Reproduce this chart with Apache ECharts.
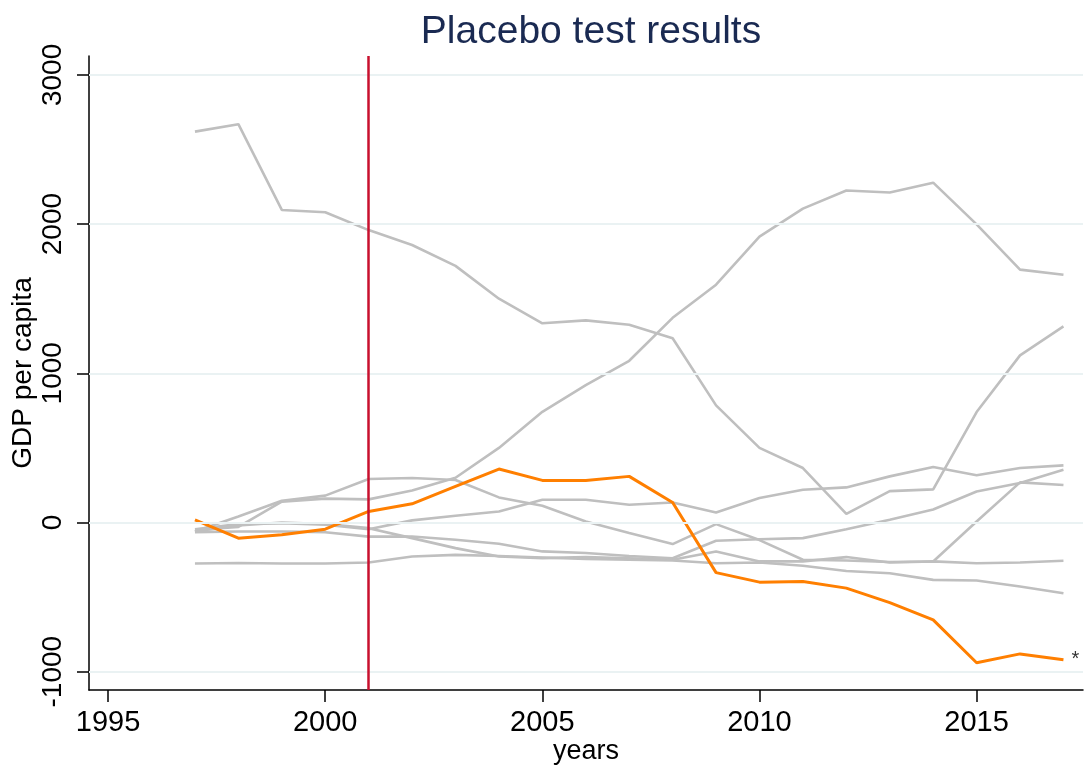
<!DOCTYPE html>
<html><head><meta charset="utf-8">
<script src="https://cdn.jsdelivr.net/npm/echarts@6/dist/echarts.min.js"></script>
<style>html,body{margin:0;padding:0;background:#fff}#c{width:1084px;height:767px}</style>
</head><body><div id="c"></div>
<script>
const years = [1997,1998,1999,2000,2001,2002,2003,2004,2005,2006,2007,2008,2009,2010,2011,2012,2013,2014,2015,2016,2017];
const treated = [18,-105,-83,-45,74,125,242,358,282,282,309,134,-336,-400,-396,-440,-537,-653,-940,-881,-920];
const placeboA = [2620,2670,2095,2080,1960,1860,1720,1500,1335,1355,1325,1235,785,500,365,58,210,222,740,1120,1315];
const placeboB = [-50,-30,140,160,155,215,300,500,742,920,1084,1372,1594,1916,2104,2225,2212,2278,1998,1695,1661];
const placeboC = [-60,40,145,180,291,298,285,168,112,7,-71,-145,-11,-118,-250,-255,-265,-262,7,269,251];
const placeboD = [-45,-10,-5,-15,-45,14,45,74,152,152,119,134,67,164,219,235,309,372,316,365,383];
const placeboE = [-65,-60,-60,-65,-95,-94,-116,-143,-194,-205,-225,-240,-123,-112,-105,-45,18,87,208,264,354];
const placeboF = [-60,-20,0,-10,-38,-105,-172,-228,-239,-232,-240,-250,-194,-261,-261,-232,-268,-261,-273,-268,-257];
const placeboG = [-275,-272,-275,-275,-268,-228,-217,-225,-235,-245,-250,-255,-273,-268,-290,-325,-340,-385,-389,-429,-474];
const placebos = [placeboA,placeboB,placeboC,placeboD,placeboE,placeboF,placeboG];
const xTicks = [1995,2000,2005,2010,2015];
const yTicks = [-1000,0,1000,2000,3000];
const treatYear = 2001;

const chart = echarts.init(document.getElementById('c'), null, {renderer:'canvas'});
const font = 'Liberation Sans, Arial, sans-serif';
const pair = v => years.map((y,i)=>[y,v[i]]);
const series = [];
series.push({
  type:'line', data:[], silent:true, z:1,
  markLine:{silent:true, symbol:'none', label:{show:false},
    lineStyle:{color:'#eaf2f3', width:2, type:'solid'},
    data: yTicks.map(v=>({yAxis:v}))}
});
placebos.forEach(p=>series.push({
  type:'line', data:pair(p), symbol:'none', silent:true, z:2,
  lineStyle:{color:'#bfbfbf', width:2.6}
}));
series.push({
  type:'line', data:pair(treated), symbol:'none', silent:true, z:3,
  lineStyle:{color:'#ff7f00', width:3},
  endLabel:{show:true, formatter:'*', color:'#333', fontSize:20, distance:8, fontFamily:font}
});
series.push({
  type:'line', data:[], silent:true, z:5,
  markLine:{silent:true, symbol:'none', label:{show:false},
    lineStyle:{color:'#c8102e', width:2.5, type:'solid'},
    data:[{xAxis:treatYear}]}
});

chart.setOption({
  animation:false,
  backgroundColor:'#fff',
  title:{text:'Placebo test results', left:586, top:8, textAlign:'center',
    textStyle:{color:'#1a2a52', fontSize:39, fontWeight:'normal', fontFamily:font}},
  grid:{left:89, right:1, top:56, bottom:77, containLabel:false, outerBoundsMode:'none'},
  xAxis:{type:'value', min:1994.56, max:2017.45,
    name:'years', nameLocation:'middle', nameGap:48, nameMoveOverlap:false,
    nameTextStyle:{color:'#000', fontSize:27, fontFamily:font},
    axisLine:{show:true, onZero:false, lineStyle:{color:'#000', width:1.5}},
    axisTick:{show:true, length:12, customValues:xTicks, lineStyle:{color:'#000', width:1.5}},
    axisLabel:{customValues:xTicks, formatter:v=>String(Math.round(v)), color:'#000', fontSize:29, fontFamily:font, margin:18, hideOverlap:false},
    splitLine:{show:false}},
  yAxis:{type:'value', min:-1123, max:3127,
    name:'GDP per capita', nameLocation:'middle', nameGap:52, nameMoveOverlap:false,
    nameTextStyle:{color:'#000', fontSize:28, fontFamily:font},
    axisLine:{show:true, onZero:false, lineStyle:{color:'#000', width:1.5}},
    axisTick:{show:true, length:12, customValues:yTicks, lineStyle:{color:'#000', width:1.5}},
    axisLabel:{customValues:yTicks, formatter:v=>String(Math.round(v)), rotate:90, color:'#000', fontSize:28, fontFamily:font, margin:22, hideOverlap:false},
    splitLine:{show:false}},
  series
});
</script></body></html>
